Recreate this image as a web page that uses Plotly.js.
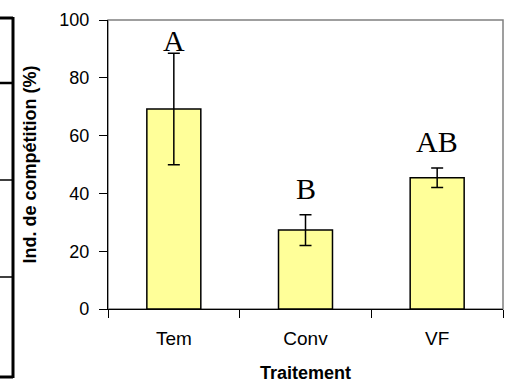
<!DOCTYPE html>
<html>
<head>
<meta charset="utf-8">
<script src="https://cdn.plot.ly/plotly-3.0.1.min.js"></script>
<style>html,body{margin:0;padding:0;background:#fff;}#chart{width:509px;height:383px;}</style>
</head>
<body>
<div id="chart"></div>
<script>
const categories = ["Tem", "Conv", "VF"];
const values = [69.2, 27.3, 45.4];
const errors = [19.3, 5.3, 3.4];
const letters = ["A", "B", "AB"];
const yTicks = [0, 20, 40, 60, 80, 100];
const letterShift = [2, 16, 16];

const trace = {
  type: "bar",
  x: categories,
  y: values,
  marker: {color: "#FFFF99", line: {color: "#000000", width: 1.5}},
  width: 0.41,
  error_y: {type: "data", array: errors, visible: true, color: "#000000", thickness: 1.5, width: 6},
  hoverinfo: "none"
};

const annotations = categories.map((c, i) => ({
  x: c, y: values[i] + errors[i], xref: "x", yref: "y",
  text: letters[i], showarrow: false, yanchor: "bottom", yshift: letterShift[i] - 8,
  font: {family: "Liberation Serif, Times New Roman, serif", size: 30, color: "#000"}
}));

const px = v => (v - 108) / 395;
const py = v => (309 - v) / 289;
const shapes = [
  {type: "rect", xref: "paper", yref: "paper", x0: 0, x1: 1, y0: 0, y1: 1, line: {color: "#808080", width: 1.5}, layer: "below"},
  {type: "line", xref: "paper", yref: "paper", x0: px(13), x1: px(13), y0: py(17), y1: py(378), line: {color: "#000", width: 3}},
  {type: "line", xref: "paper", yref: "paper", x0: px(0), x1: px(13), y0: py(18), y1: py(18), line: {color: "#000", width: 3}},
  {type: "line", xref: "paper", yref: "paper", x0: px(0), x1: px(13), y0: py(83), y1: py(83), line: {color: "#000", width: 2.5}},
  {type: "line", xref: "paper", yref: "paper", x0: px(0), x1: px(13), y0: py(180), y1: py(180), line: {color: "#000", width: 1.5}},
  {type: "line", xref: "paper", yref: "paper", x0: px(0), x1: px(13), y0: py(277), y1: py(277), line: {color: "#000", width: 1.5}},
  {type: "line", xref: "paper", yref: "paper", x0: px(0), x1: px(13), y0: py(377), y1: py(377), line: {color: "#000", width: 3}}
];

const layout = {
  width: 509, height: 383,
  margin: {l: 108, r: 6, t: 20, b: 74},
  paper_bgcolor: "#ffffff", plot_bgcolor: "#ffffff",
  showlegend: false,
  font: {family: "Liberation Sans, Arial, sans-serif", color: "#000"},
  xaxis: {
    type: "category",
    showline: true, linecolor: "#000", linewidth: 1.2,
    ticks: "outside", tickson: "boundaries", ticklen: 8, tickcolor: "#000", tickwidth: 1,
    tickfont: {size: 19, family: "Liberation Sans, Arial, sans-serif"},
    ticklabelstandoff: 12,
    showgrid: false, zeroline: false,
    title: {text: "Traitement", font: {size: 18, family: "Liberation Sans, Arial, sans-serif", weight: "bold"}, standoff: 21}
  },
  yaxis: {
    range: [0, 100], tickvals: yTicks, ticktext: yTicks.map(String),
    showline: true, linecolor: "#000", linewidth: 1.2,
    ticks: "outside", ticklen: 8, tickcolor: "#000", tickwidth: 1,
    tickfont: {size: 18, family: "Liberation Sans, Arial, sans-serif"},
    ticklabelstandoff: 6,
    showgrid: false, zeroline: false,
    title: {text: "Ind. de compétition (%)", font: {size: 18, family: "Liberation Sans, Arial, sans-serif", weight: "bold"}, standoff: 17}
  },
  annotations: annotations,
  shapes: shapes
};

Plotly.newPlot("chart", [trace], layout, {displayModeBar: false, staticPlot: true});
</script>
</body>
</html>
